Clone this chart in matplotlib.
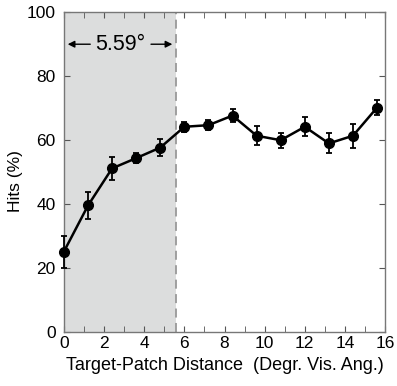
import matplotlib
matplotlib.use("Agg")
import matplotlib.pyplot as plt

plt.rcParams['font.family'] = ['Liberation Sans', 'DejaVu Sans']

# data
distance = [0, 1.2, 2.4, 3.6, 4.8, 6.0, 7.2, 8.4, 9.6, 10.8, 12.0, 13.2, 14.4, 15.6]
hits = [25.0, 39.4, 51.0, 54.2, 57.5, 64.0, 64.5, 67.5, 61.2, 59.8, 64.0, 58.8, 61.2, 70.0]
hits_err = [5.0, 4.3, 3.5, 1.5, 2.6, 1.5, 1.5, 2.0, 3.0, 2.4, 3.0, 3.1, 3.7, 2.3]
threshold = 5.59

fig = plt.figure(figsize=(3.97, 3.86), dpi=100)
ax = fig.add_axes([0.161, 0.141, 0.809, 0.829])

ax.axvspan(0, threshold, color='#dcdddd', lw=0, zorder=0)
ax.axvline(threshold, color='#999999', ls=(0, (5, 3)), lw=1.3, zorder=1)

ax.errorbar(distance, hits, yerr=hits_err, color='black', lw=1.8,
            marker='o', ms=7, capsize=2.5, elinewidth=1.3, capthick=1.3,
            clip_on=False, zorder=3)

# arrow annotation for the threshold width
ax.annotate('', xy=(0.05, 89.8), xytext=(1.45, 89.8),
            arrowprops=dict(arrowstyle='-|>', color='black', lw=1, mutation_scale=10))
ax.annotate('', xy=(threshold - 0.05, 89.8), xytext=(4.2, 89.8),
            arrowprops=dict(arrowstyle='-|>', color='black', lw=1, mutation_scale=10))
ax.text(threshold / 2, 89.8, '5.59°', ha='center', va='center', fontsize=15.5)

ax.set_xlim(0, 16)
ax.set_ylim(0, 100)
ax.set_xticks(range(0, 17, 2))
ax.set_xticks(range(0, 17), minor=True)
ax.set_yticks(range(0, 101, 20))
ax.tick_params(which='both', direction='in', top=True, right=True,
               labelsize=12.5, color='#555555', length=4)
ax.tick_params(axis='y', pad=6)
ax.tick_params(axis='x', pad=3.5)
for s in ax.spines.values():
    s.set_color('#777777')
    s.set_linewidth(1)

ax.set_xlabel('Target-Patch Distance  (Degr. Vis. Ang.)', fontsize=13, labelpad=4)
ax.set_ylabel('Hits (%)', fontsize=12.5, labelpad=2)
ax.yaxis.set_label_coords(-0.128, 0.47)

fig.savefig('out.png', dpi=100)
